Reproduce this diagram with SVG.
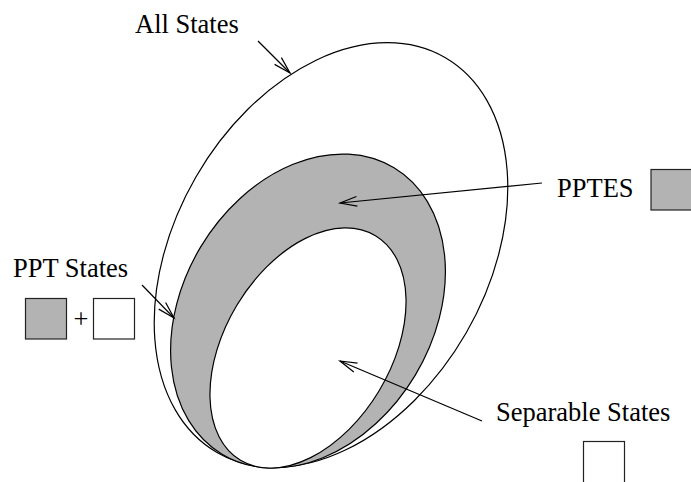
<svg xmlns="http://www.w3.org/2000/svg" width="691" height="482" viewBox="0 0 691 482">
<style>
  .lbl { font-family: "Liberation Serif", "Times New Roman", serif; font-size: 26.5px; fill: #000; }
  .edge { fill: none; stroke: #000; stroke-width: 1.2; }
  .conn { fill: none; stroke: #000; stroke-width: 1.2; marker-end: url(#open); }
  .gray { fill: #b3b3b3; stroke: #000; stroke-width: 1.2; }
  .white { fill: #fff; stroke: #000; stroke-width: 1.2; }
  .box { stroke: #222; stroke-width: 1.2; }
</style>
<defs>
  <marker id="open" markerUnits="userSpaceOnUse" markerWidth="24" markerHeight="14" refX="0" refY="0" viewBox="-20 -7 24 14" orient="auto" overflow="visible">
    <path d="M-17,-4.8 L0,0 L-17,4.8" fill="none" stroke="#000" stroke-width="1.2"/>
  </marker>
</defs>
<rect width="691" height="482" fill="#fff"/>

<g id="all-states">
  <ellipse class="edge" cx="331" cy="255" rx="228" ry="156" transform="rotate(-60 331 255)"/>
  <text class="lbl" x="135" y="33">All States</text>
</g>

<g id="pptes">
  <ellipse class="gray" cx="308" cy="311" rx="167" ry="125" transform="rotate(-59 308 311)"/>
  <text class="lbl" x="557" y="197">PPTES</text>
  <rect class="box" x="651" y="169.5" width="42" height="40.5" fill="#b3b3b3"/>
</g>

<g id="separable-states">
  <ellipse class="white" cx="308" cy="348" rx="131" ry="83" transform="rotate(-59 308 348)"/>
  <text class="lbl" x="496" y="421">Separable States</text>
  <rect class="box" x="583.5" y="441.5" width="41" height="42" fill="#fff"/>
</g>

<g id="ppt-states">
  <text class="lbl" x="13" y="277">PPT States</text>
  <rect class="box" x="25.5" y="298.5" width="41" height="40.5" fill="#b3b3b3"/>
  <text class="lbl" x="81" y="327.5" text-anchor="middle">+</text>
  <rect class="box" x="93.5" y="298.5" width="41" height="40.5" fill="#fff"/>
</g>

<g id="connectors">
  <line class="conn" x1="258" y1="41" x2="290" y2="73"/>
  <line class="conn" x1="542" y1="183" x2="340" y2="203"/>
  <line class="conn" x1="142" y1="285" x2="174" y2="318"/>
  <line class="conn" x1="482" y1="421" x2="340" y2="361"/>
</g>
</svg>
